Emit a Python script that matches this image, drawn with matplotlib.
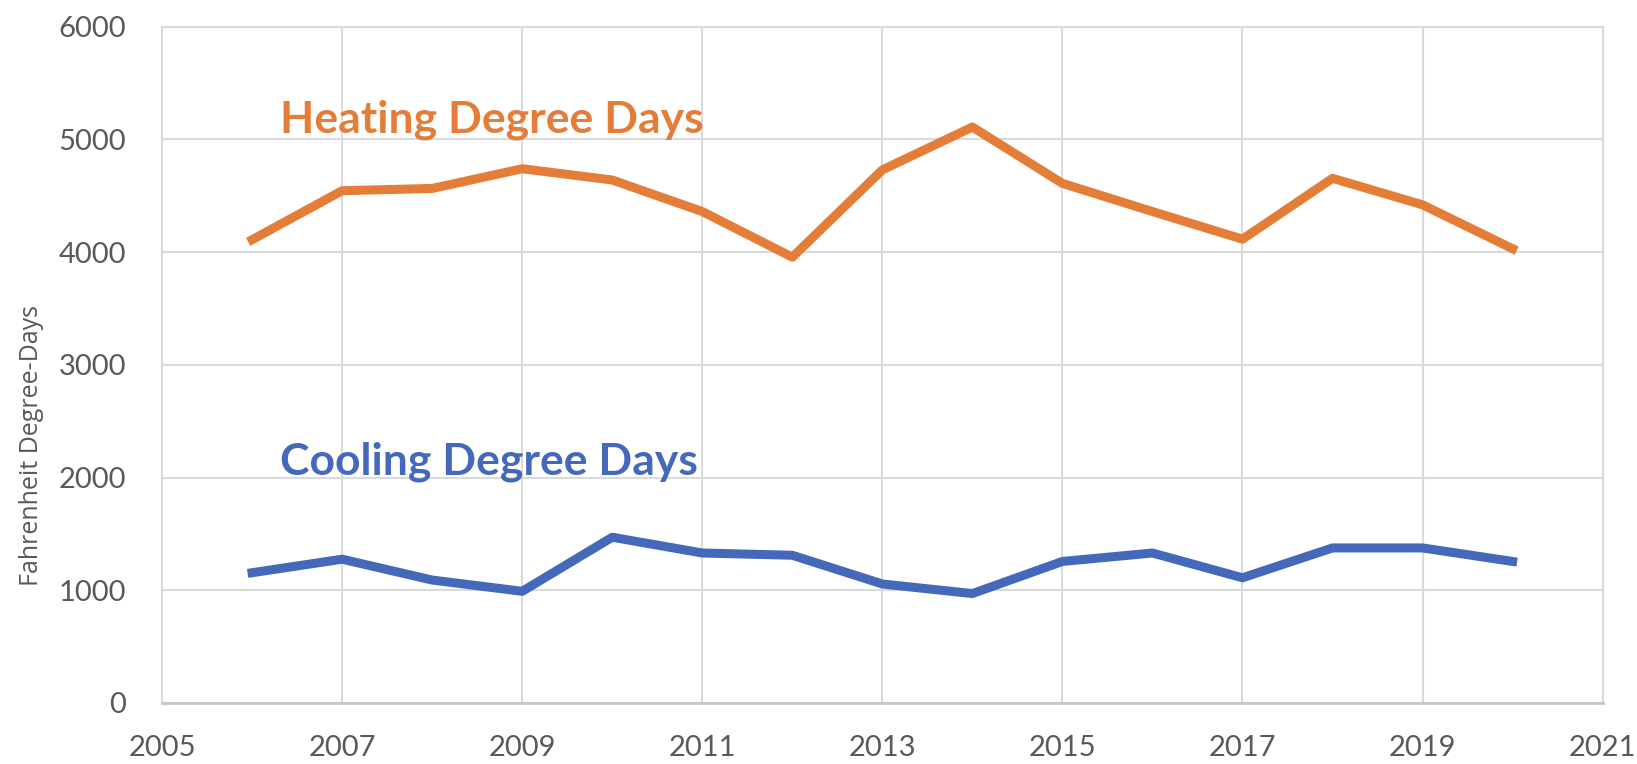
import matplotlib
matplotlib.use("Agg")
import matplotlib.pyplot as plt

# annual degree-day totals
years = [2006, 2007, 2008, 2009, 2010, 2011, 2012, 2013, 2014, 2015, 2016, 2017, 2018, 2019, 2020]
heating = [4110, 4545, 4565, 4740, 4640, 4360, 3955, 4730, 5110, 4610, 4360, 4115, 4655, 4420, 4030]
cooling = [1155, 1275, 1090, 990, 1470, 1330, 1310, 1055, 970, 1255, 1330, 1110, 1375, 1375, 1255]

x_ticks = [2005, 2007, 2009, 2011, 2013, 2015, 2017, 2019, 2021]
y_ticks = [0, 1000, 2000, 3000, 4000, 5000, 6000]

orange = "#E47D38"
blue = "#4569BA"
grid_col = "#DADADA"
text_col = "#595959"

fig = plt.figure(figsize=(16.37, 7.64), dpi=100)
ax = fig.add_axes([0.099, 0.080, 0.880, 0.885])

ax.plot(years, heating, color=orange, lw=6.5, zorder=3)
ax.plot(years, cooling, color=blue, lw=6.5, zorder=3)

ax.set_xlim(2005, 2021)
ax.set_ylim(0, 6000)
ax.set_xticks(x_ticks)
ax.set_yticks(y_ticks)
ax.grid(True, color=grid_col, lw=1.5, zorder=0)

for s in ["top", "right", "left"]:
    ax.spines[s].set_color(grid_col)
    ax.spines[s].set_linewidth(1.5)
ax.spines["bottom"].set_color("#C8C8C8")
ax.spines["bottom"].set_linewidth(2)

ax.tick_params(axis="y", length=0, pad=26, colors=text_col)
ax.tick_params(axis="x", length=0, pad=23, colors=text_col)
for lab in ax.get_xticklabels() + ax.get_yticklabels():
    lab.set_fontfamily("Lato")
    lab.set_fontsize(21)
    lab.set_color(text_col)

ax.set_ylabel("Fahrenheit Degree-Days", fontsize=18, color=text_col,
              fontfamily=["Open Sans", "DejaVu Sans"])
ax.yaxis.set_label_coords(-0.082, 0.38)

ax.text(2006.31, 5175, "Heating Degree Days", color=orange, fontsize=32,
        fontweight="bold", fontfamily="Lato", va="center", ha="left")
ax.text(2006.31, 2140, "Cooling Degree Days", color=blue, fontsize=32,
        fontweight="bold", fontfamily="Lato", va="center", ha="left")

fig.savefig("out.png", dpi=100)
